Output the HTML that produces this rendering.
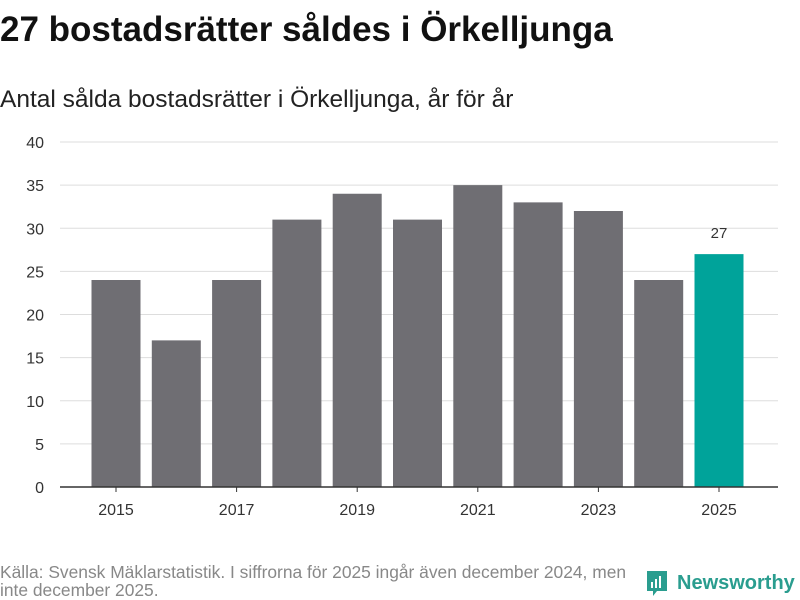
<!DOCTYPE html>
<html><head><meta charset="utf-8"><style>
body{margin:0;width:800px;height:600px;background:#fff;font-family:"Liberation Sans","DejaVu Sans",sans-serif;overflow:hidden;position:relative}
h1{position:absolute;left:0;top:10px;margin:0;font-size:35px;font-weight:bold;color:#111;letter-spacing:0px}
.sub{position:absolute;left:0;top:86px;font-size:24.5px;color:#222}
.src{position:absolute;left:0;top:563px;font-size:17.4px;color:#888;line-height:18px;width:645px}
.logo{position:absolute;left:645px;top:569px;display:flex;align-items:center;font-size:20px;color:#2a9d8f;font-weight:bold}
</style></head><body>
<h1>27 bostadsrätter såldes i Örkelljunga</h1>
<div class="sub">Antal sålda bostadsrätter i Örkelljunga, år för år</div>
<svg id="chart" width="800" height="600" style="position:absolute;left:0;top:0"></svg>
<div class="src">Källa: Svensk Mäklarstatistik. I siffrorna för 2025 ingår även december 2024, men inte december 2025.</div>
<div class="logo"><svg width="24" height="28" viewBox="0 0 24 28"><path d="M2 2h20v20H12l-4 5v-5H2z" fill="#2a9d8f"/><rect x="6" y="13" width="2" height="6" fill="#fff"/><rect x="10" y="10" width="2" height="9" fill="#fff"/><rect x="14" y="7" width="2" height="12" fill="#fff"/></svg><span style="margin-left:8px">Newsworthy</span></div>
<script>
const years=[2015,2016,2017,2018,2019,2020,2021,2022,2023,2024,2025];
const values=[24,17,24,31,34,31,35,33,32,24,27];
const yTicks=[0,5,10,15,20,25,30,35,40];
const xLabels=[2015,2017,2019,2021,2023,2025];
const svg=document.getElementById('chart');
const NS='http://www.w3.org/2000/svg';
const y0=487,yTop=142,ymax=40;
const y=v=>y0-(v/ymax)*(y0-yTop);
const x=i=>116+i*60.3;
const bw=49;
function mk(t,a){const e=document.createElementNS(NS,t);for(const k in a)e.setAttribute(k,a[k]);svg.appendChild(e);return e;}
yTicks.forEach(t=>{
 if(t>0){const l=mk('line',{x1:60,x2:778,y1:y(t),y2:y(t),stroke:'#ddd','stroke-width':1});
 
 }
 const tx=mk('text',{x:44,y:y(t)+6,'text-anchor':'end','font-size':16,fill:'#333'});tx.textContent=t;
 
 
});
years.forEach((yr,i)=>{
 const last=i===years.length-1;
 const r=mk('rect',{x:x(i)-bw/2,y:y(values[i]),width:bw,height:y0-y(values[i]),fill:last?'#00a39a':'#6f6e73'});
 
 
 if(last){const t=mk('text',{x:x(i),y:y(values[i])-16,'text-anchor':'middle','font-size':15,fill:'#333'});t.textContent=values[i];
 
 }
 if(xLabels.includes(yr)){const t=mk('text',{x:x(i),y:515,'text-anchor':'middle','font-size':16,fill:'#333'});t.textContent=yr;
 
 
 const tk=mk('line',{x1:x(i),x2:x(i),y1:y0,y2:y0+5,stroke:'#333'});
 
 }
});
const ax=mk('line',{x1:60,x2:778,y1:y0,y2:y0,stroke:'#333','stroke-width':1.5});


</script>
</body></html>
